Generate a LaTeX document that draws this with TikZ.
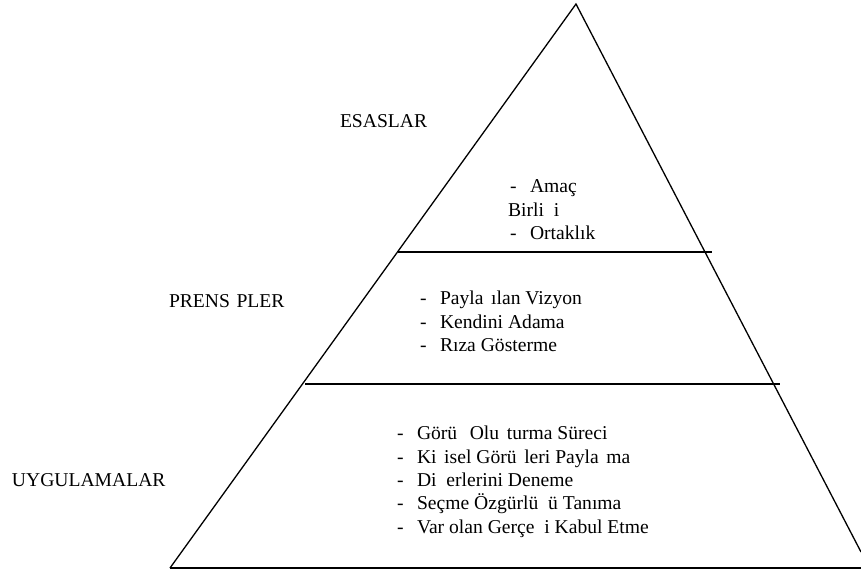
\documentclass[tikz,border=0pt]{standalone}
\usepackage{fontspec}
\setmainfont{Liberation Serif}
\newcommand{\gapw}[1]{\hspace*{#1em}}
\begin{document}
\begin{tikzpicture}[x=1pt,y=-1pt,
  txt/.style={anchor=base west,inner sep=0pt,outer sep=0pt,
    font=\fontsize{19.6}{23.5}\selectfont},
  rule/.style={line width=1.3pt,line cap=butt,line join=miter}]
\useasboundingbox (0,0) rectangle (861,572);

% pyramid outline (right corner runs past the page edge)
\coordinate (apex) at (576,4);
\coordinate (bl) at (170,568);
\coordinate (br) at (861,568);
\coordinate (rs) at (861,552);
\draw[rule] (bl) -- (apex) -- (rs);
\draw[rule] (bl) -- (br);

% tier dividers
\coordinate (d1a) at (398,252);
\coordinate (d1b) at (712,252);
\coordinate (d2a) at (305,384);
\coordinate (d2b) at (780,384);
\draw[rule] (d1a) -- (d1b);
\draw[rule] (d2a) -- (d2b);

% tier titles
\node[txt] (esas) at (340,128) {ESASLAR};
\node[txt] (prens) at (169,307) {PRENS\gapw{0.333}PLER};
\node[txt] (uyg) at (12,486) {UYGULAMALAR};

% top tier
\node[txt] (t1d) at (510,193) {-};
\node[txt] (t1) at (530,193) {Amaç};
\node[txt] (t2) at (508,216) {Birli\gapw{0.5}i};
\node[txt] (t3d) at (510,239) {-};
\node[txt] (t3) at (530,239) {Ortaklık};

% middle tier
\node[txt] (m1d) at (420,304) {-};
\node[txt] (m1) at (440,304) {Payla\gapw{0.389}ılan Vizyon};
\node[txt] (m2d) at (420,328) {-};
\node[txt] (m2) at (440,328) {Kendini Adama};
\node[txt] (m3d) at (420,351) {-};
\node[txt] (m3) at (440,351) {Rıza Gösterme};

% bottom tier
\node[txt] (b1d) at (397,439) {-};
\node[txt] (b1) at (417,439) {Görü\gapw{0.389} Olu\gapw{0.389}turma Süreci};
\node[txt] (b2d) at (397,463) {-};
\node[txt] (b2) at (417,463) {Ki\gapw{0.389}isel Görü\gapw{0.389}leri Payla\gapw{0.389}ma};
\node[txt] (b3d) at (397,486) {-};
\node[txt] (b3) at (417,486) {Di\gapw{0.5}erlerini Deneme};
\node[txt] (b4d) at (397,509) {-};
\node[txt] (b4) at (417,509) {Seçme Özgürlü\gapw{0.5}ü Tanıma};
\node[txt] (b5d) at (397,533) {-};
\node[txt] (b5) at (417,533) {Var olan Gerçe\gapw{0.5}i Kabul Etme};
\end{tikzpicture}
\end{document}
